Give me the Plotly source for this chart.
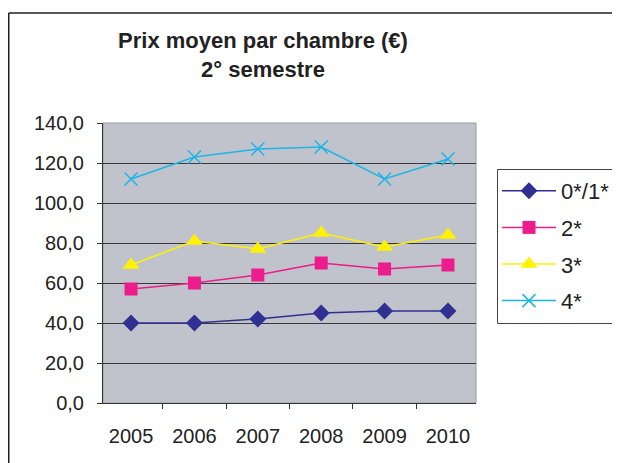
import plotly.graph_objects as go

years = ["2005", "2006", "2007", "2008", "2009", "2010"]
s01 = [40, 40, 42, 45, 46, 46]
s2 = [57, 60, 64, 70, 67, 69]
s3 = [69, 81, 77, 85, 78, 84]
s4 = [112, 123, 127, 128, 112, 122]
names = ["0*/1*", "2*", "3*", "4*"]
colors = ["#2E3192", "#EC1C8C", "#FFF200", "#1CB5E8"]
symbols = ["diamond", "square", "triangle-up", "x-thin"]
sizes = [13, 13, 15, 13]

FONT = "Liberation Sans, Arial, sans-serif"

fig = go.Figure()
for i, vals in enumerate([s01, s2, s3, s4]):
    marker = dict(color=colors[i], size=sizes[i], symbol=symbols[i])
    if symbols[i] == "x-thin":
        marker["line"] = dict(color=colors[i], width=1.5)
    fig.add_trace(go.Scatter(
        x=years, y=vals, name=names[i], mode="lines+markers",
        line=dict(color=colors[i], width=1.5), marker=marker,
        legendgroup=names[i],
    ))

OFF = 8  # page body margin
W, H = 612, 455
# desired plot area in page pixels
PL, PR, PT, PB = 103, 476, 123, 403
L = PL - OFF
T = PT - OFF
pw = PR - PL
ph = PB - PT
R = W - L - pw
B = H - T - ph

def px(x):
    return (x - OFF - L) / pw

def py(y):
    return (T + ph - (y - OFF)) / ph

fig.update_layout(
    width=W, height=H,
    margin=dict(l=L, r=R, t=T, b=B, pad=0, autoexpand=False),
    paper_bgcolor="white",
    plot_bgcolor="#C0C3CB",
    separators=", ",
    font=dict(family=FONT, size=20, color="#222222"),
    title=dict(
        text="<b>Prix moyen par chambre (€)<br>2° semestre</b>",
        x=(263 - OFF) / W, xanchor="center", xref="container",
        y=1 - (48 - OFF) / H, yanchor="middle", yref="container",
        font=dict(family=FONT, size=22, color="#222222"),
    ),
    showlegend=True,
    legend=dict(
        x=px(497), y=py(170), xanchor="left", yanchor="top",
        borderwidth=0, bgcolor="rgba(0,0,0,0)",
        font=dict(family=FONT, size=22, color="#222222"),
        traceorder="grouped", tracegroupgap=5,
        itemwidth=54,
    ),
    xaxis=dict(
        type="category", tickson="boundaries", ticks="outside", ticklen=5,
        tickcolor="#333333", showline=True, linecolor="#333333", linewidth=1,
        showgrid=False, ticklabelstandoff=15, fixedrange=True,
    ),
    yaxis=dict(
        range=[0, 140], dtick=20, tickformat=".1f", ticks="outside", ticklen=5,
        tickcolor="#333333", showline=True, linecolor="#333333", linewidth=1,
        showgrid=True, gridcolor="#383838", gridwidth=1, zeroline=False,
        ticklabelstandoff=9, fixedrange=True,
    ),
    shapes=[
        dict(type="rect", xref="paper", yref="paper", x0=0, x1=1, y0=0, y1=1,
             line=dict(color="#9A9A9A", width=1), layer="below"),
        dict(type="rect", xref="paper", yref="paper", x0=px(497.5), x1=px(617.5),
             y0=py(323.5), y1=py(169.5), line=dict(color="#444444", width=1),
             fillcolor="rgba(0,0,0,0)"),
        dict(type="line", xref="paper", yref="paper", x0=px(8.75), x1=px(640),
             y0=py(13), y1=py(13), line=dict(color="#222222", width=1.5)),
        dict(type="line", xref="paper", yref="paper", x0=px(8.75), x1=px(8.75),
             y0=py(13), y1=py(480), line=dict(color="#222222", width=1.5)),
    ],
)

fig.write_html(
    "out.html",
    config={"displayModeBar": False},
)
